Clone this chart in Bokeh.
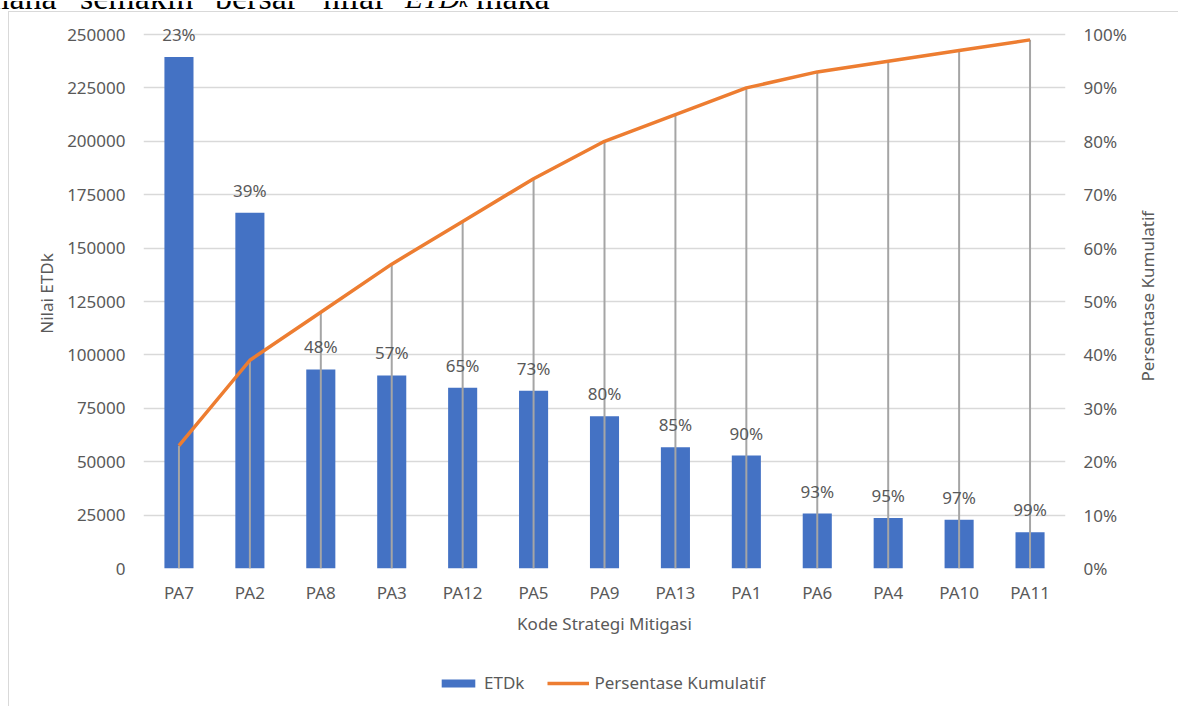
import math
from bokeh.plotting import figure
from bokeh.layouts import column
from bokeh.models import (Range1d, LinearAxis, FactorRange, NumeralTickFormatter, FixedTicker,
                          Legend, LegendItem, ColumnDataSource, Div)
from bokeh.core.properties import value
from bokeh.embed import file_html
from bokeh.resources import INLINE

# ---- data ----
categories = ["PA7", "PA2", "PA8", "PA3", "PA12", "PA5", "PA9", "PA13", "PA1", "PA6", "PA4", "PA10", "PA11"]
etdk = [239500, 166500, 93200, 90400, 84600, 83200, 71300, 56800, 52900, 25700, 23700, 22800, 17000]
cumulative_pct = [23, 39, 48, 57, 65, 73, 80, 85, 90, 93, 95, 97, 99]
y_ticks = [0, 25000, 50000, 75000, 100000, 125000, 150000, 175000, 200000, 225000, 250000]
pct_ticks = [0.0, 0.1, 0.2, 0.3, 0.4, 0.5, 0.6, 0.7, 0.8, 0.9, 1.0]
top_words = ["mana", "semakin", "bersar", "nilai", "ETD", "k", "maka"]

FONT = "Noto Sans"
TXT = "#595959"
GRID = "#d9d9d9"
BAR = "#4472c4"
ORANGE = "#ed7d31"

src = ColumnDataSource(dict(
    cat=categories,
    etdk=etdk,
    pct=[v / 100 for v in cumulative_pct],
    lbl=[f"{v}%" for v in cumulative_pct],
))

# ---- clipped line of document text above the chart ----
word_style = [  # left, top, size, style
    (-17, -20, 34, "normal"),
    (80, -20, 34, "normal"),
    (215, -20, 34, "normal"),
    (323, -20, 34, "normal"),
    (405, -17, 29, "italic"),
    (459, -11, 20, "italic"),
    (476, -20, 34, "normal"),
]
spans = ""
for w, (lx, ty, fs, st) in zip(top_words, word_style):
    spans += (f'<span style="position:absolute;left:{lx}px;top:{ty}px;font-family:\'Liberation Serif\';'
              f'font-size:{fs}px;line-height:{fs}px;font-style:{st};color:#000;white-space:nowrap">{w}</span>')
div = Div(text=f'<div style="position:relative;width:1178px;height:11px;overflow:hidden">{spans}</div>',
          width=1178, height=11, margin=0)

# ---- main figure ----
Y_TOP = 250000          # last gridline / tick
Y_MAX = 257500          # a little headroom so the top data label is not clipped
FL, FR, FT, FB = 134, 114, 6, 93
W, H = 1170, 649

p = figure(width=W, height=H, x_range=FactorRange(factors=categories, range_padding=0),
           y_range=Range1d(0, Y_MAX), output_backend="svg", toolbar_location=None,
           min_border_left=FL, min_border_right=FR, min_border_top=FT, min_border_bottom=FB,
           outline_line_color=None, background_fill_color="white", border_fill_color="white",
           margin=(0, 0, 0, 8),
           styles={"border-left": f"1px solid {GRID}", "border-top": f"1px solid {GRID}"})
p.extra_y_ranges = {"pct": Range1d(0, Y_MAX / Y_TOP)}

p.xgrid.grid_line_color = None
p.ygrid.ticker = FixedTicker(ticks=y_ticks)
p.ygrid.grid_line_color = GRID
p.ygrid.grid_line_width = 1.3

ya = p.yaxis[0]
ya.ticker = FixedTicker(ticks=y_ticks)
ya.formatter = NumeralTickFormatter(format="0")
ya.axis_label = "Nilai ETDk"
ya.axis_label_standoff = 6
ya.major_label_standoff = 12

RIGHT_TITLE = "Persentase Kumulatif"
ra = LinearAxis(y_range_name="pct", ticker=FixedTicker(ticks=pct_ticks),
                formatter=NumeralTickFormatter(format="0%"))
ra.axis_label_standoff = 18
ra.major_label_standoff = 12
ra.axis_label_orientation = math.pi / 2   # read bottom-to-top like the reference
try:
    ra.axis_label_align = "start"
    # label starts at the bottom of the axis; lead-in em spaces centre it
    ra.axis_label = "\u2003" * 11 + RIGHT_TITLE
except Exception:
    ra.axis_label = RIGHT_TITLE
p.add_layout(ra, "right")

xa = p.xaxis[0]
xa.axis_label = "Kode Strategi Mitigasi"
xa.major_label_standoff = 6
xa.axis_label_standoff = 5

for ax in (ya, ra, xa):
    ax.axis_line_color = None
    ax.major_tick_line_color = None
    ax.minor_tick_line_color = None
    ax.major_label_text_font = FONT
    ax.major_label_text_font_size = "17px"
    ax.major_label_text_color = TXT
    ax.axis_label_text_font = FONT
    ax.axis_label_text_font_size = "17px"
    ax.axis_label_text_color = TXT
    ax.axis_label_text_font_style = "normal"

p.vbar(x="cat", top="etdk", width=0.41, source=src, fill_color=BAR, line_color=None)
p.segment(x0="cat", y0=0, x1="cat", y1="pct", y_range_name="pct", source=src,
          line_color="#a5a5a5", line_width=2)
p.line(x="cat", y="pct", y_range_name="pct", source=src, line_color=ORANGE, line_width=3.5)
p.text(x="cat", y="etdk", text="lbl", source=src, text_align="center", text_baseline="bottom",
       y_offset=-11, text_font=value(FONT), text_font_size="17px", text_color=TXT)

# ---- legend strip ----
LH = 46
lg = figure(width=W, height=LH, x_range=Range1d(0, 1), y_range=Range1d(0, 1),
            output_backend="svg", toolbar_location=None, min_border=0,
            x_axis_location=None, y_axis_location=None, outline_line_color=None,
            margin=(0, 0, 0, 8), styles={"border-left": f"1px solid {GRID}"})
lg.grid.visible = False
# swatch-only renderers, kept outside the visible range
r_bar = lg.vbar(x=[-5], top=[-5], width=0.4, fill_color=BAR, line_color=None)
r_line = lg.line(x=[-6, -5], y=[-5, -5], line_color=ORANGE, line_width=3.5)
legend = Legend(items=[LegendItem(label="ETDk", renderers=[r_bar]),
                       LegendItem(label="Persentase Kumulatif", renderers=[r_line])],
                orientation="horizontal", location=(294, 12),
                padding=0, margin=0, spacing=23, glyph_width=42, glyph_height=10,
                label_standoff=5, label_text_font=FONT, label_text_font_size="17px",
                label_text_color=TXT, border_line_color=None, background_fill_alpha=0)
lg.add_layout(legend)

layout = column(div, p, lg, spacing=0)
open("out.html", "w").write(file_html(layout, INLINE))
